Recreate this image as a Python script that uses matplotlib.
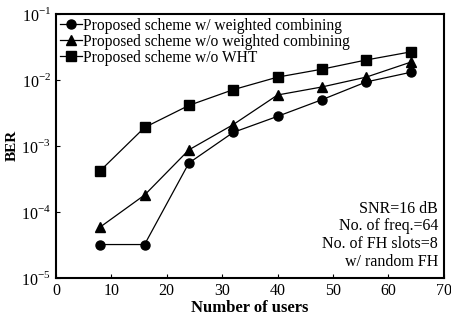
import matplotlib
matplotlib.use('Agg')
import matplotlib.pyplot as plt

plt.rcParams['font.family'] = ['Liberation Serif', 'DejaVu Serif']
plt.rcParams['mathtext.fontset'] = 'custom'
plt.rcParams['mathtext.rm'] = 'Liberation Serif'

users = [8, 16, 24, 32, 40, 48, 56, 64]
ber_weighted = [3.2e-5, 3.2e-5, 5.5e-4, 1.6e-3, 2.8e-3, 5.0e-3, 9.3e-3, 1.3e-2]
ber_no_weighted = [5.9e-5, 1.8e-4, 8.7e-4, 2.1e-3, 5.9e-3, 7.8e-3, 1.1e-2, 1.85e-2]
ber_no_wht = [4.2e-4, 1.9e-3, 4.1e-3, 7.1e-3, 1.1e-2, 1.45e-2, 2.0e-2, 2.65e-2]

fig = plt.figure(figsize=(4.51, 3.22), dpi=100)
ax = fig.add_axes([0.124, 0.137, 0.86, 0.82])

ax.semilogy(users, ber_weighted, 'k-', marker='o', ms=6.5, lw=0.9,
            label='Proposed scheme w/ weighted combining')
ax.semilogy(users, ber_no_weighted, 'k-', marker='^', ms=6.5, lw=0.9,
            label='Proposed scheme w/o weighted combining')
ax.semilogy(users, ber_no_wht, 'k-', marker='s', ms=6.5, lw=0.9,
            label='Proposed scheme w/o WHT')

ax.set_xlim(0, 70)
ax.set_ylim(1e-5, 1e-1)
ax.set_xticks(range(0, 71, 10))
ax.set_yticks([1e-5, 1e-4, 1e-3, 1e-2, 1e-1])
ax.set_yticklabels(['10$^{-5}$', '10$^{-4}$', '10$^{-3}$', '10$^{-2}$', '10$^{-1}$'])
ax.minorticks_off()
ax.tick_params(labelsize=11.5, direction='in', length=3)
for s in ax.spines.values():
    s.set_linewidth(1.5)

ax.set_xlabel('Number of users', fontsize=12, fontweight='bold', labelpad=1)
ax.set_ylabel('BER', fontsize=11, fontweight='bold', labelpad=2)

ax.legend(loc='upper left', frameon=False, fontsize=11.2, handlelength=1.4,
          handletextpad=0.1, borderaxespad=0.1, labelspacing=0.0,
          borderpad=0.15)

ax.text(0.985, 0.03, 'SNR=16 dB\nNo. of freq.=64\nNo. of FH slots=8\nw/ random FH',
        transform=ax.transAxes, ha='right', va='bottom', fontsize=11.5,
        linespacing=1.15)

fig.savefig('out.png', dpi=100)
